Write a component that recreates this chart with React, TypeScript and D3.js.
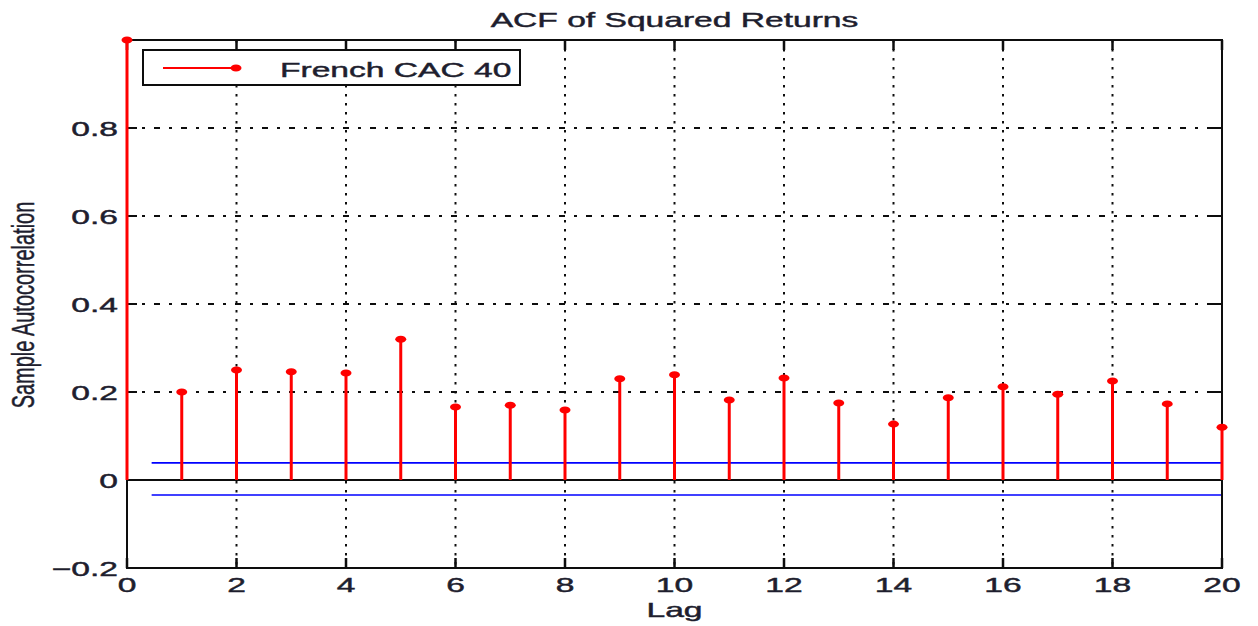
import React from "react";
import * as d3 from "d3";

// Sample autocorrelation of squared returns, lags 0..20
const lags = d3.range(0, 21);
const acfValues = [
  1.0, 0.2, 0.25, 0.246, 0.243, 0.32, 0.166, 0.17, 0.159, 0.23, 0.239,
  0.182, 0.232, 0.175, 0.127, 0.187, 0.212, 0.195, 0.225, 0.173, 0.12,
];
// Approximate confidence bounds
const upperBound = 0.039;
const lowerBound = -0.034;
const boundStartLag = 0.45;

const xTicks = [0, 2, 4, 6, 8, 10, 12, 14, 16, 18, 20];
const yTicks = [-0.2, 0, 0.2, 0.4, 0.6, 0.8];
const yTickLabels = ["\u22120.2", "0", "0.2", "0.4", "0.6", "0.8"];

const W = 1258;
const H = 626;
const left = 127;
const right = 1222;
const top = 40;
const bottom = 568;

const FONT = "'Liberation Sans', Arial, sans-serif";
const TEXT = "#1e1e2e";
const SX = 1.6;

function SText({ x, y, anchor = "start", size = 21, children }: any) {
  return (
    <text
      transform={`translate(${x},${y}) scale(${SX},1)`}
      textAnchor={anchor}
      fontFamily={FONT}
      fontSize={size}
      fill={TEXT}
      stroke={TEXT}
      strokeWidth={0.45}
    >
      {children}
    </text>
  );
}

export default function App() {
  const x = d3.scaleLinear().domain([0, 20]).range([left, right]);
  const y = d3.scaleLinear().domain([-0.2, 1.0]).range([bottom, top]);

  return (
    <svg
      width={W}
      height={H}
      style={{ position: "absolute", left: 0, top: 0, background: "#fff" }}
    >
      <defs>
        <filter id="soft" x="-5%" y="-5%" width="110%" height="110%">
          <feGaussianBlur stdDeviation="0.4" />
        </filter>
      </defs>

      <g filter="url(#soft)">
        {/* grid */}
        {xTicks
          .filter((t) => t > 0 && t < 20)
          .map((t) => (
            <line
              key={`gx${t}`}
              x1={x(t)}
              x2={x(t)}
              y1={top}
              y2={bottom}
              stroke="#111"
              strokeWidth={2}
              strokeDasharray="2.5,6.5"
            />
          ))}
        {yTicks
          .filter((t) => t > 0)
          .map((t) => (
            <line
              key={`gy${t}`}
              x1={left}
              x2={right}
              y1={y(t)}
              y2={y(t)}
              stroke="#111"
              strokeWidth={2}
              strokeDasharray="6,9,3,9"
            />
          ))}

        {/* confidence bounds */}
        {[upperBound, lowerBound].map((b, i) => (
          <line
            key={`b${i}`}
            x1={x(boundStartLag)}
            x2={x(20)}
            y1={y(b)}
            y2={y(b)}
            stroke="#0000ff"
            strokeWidth={1.6}
          />
        ))}

        {/* axes box and ticks */}
        <rect
          x={left}
          y={top}
          width={right - left}
          height={bottom - top}
          fill="none"
          stroke="#111"
          strokeWidth={2}
        />
        {xTicks.map((t) => (
          <g key={`tx${t}`}>
            <line x1={x(t)} x2={x(t)} y1={bottom} y2={bottom - 10} stroke="#111" strokeWidth={2.5} />
            <line x1={x(t)} x2={x(t)} y1={top} y2={top + 10} stroke="#111" strokeWidth={2.5} />
          </g>
        ))}
        {yTicks.map((t) => (
          <g key={`ty${t}`}>
            <line x1={left} x2={left + 10} y1={y(t)} y2={y(t)} stroke="#111" strokeWidth={2} />
            <line x1={right} x2={right - 12} y1={y(t)} y2={y(t)} stroke="#111" strokeWidth={2} />
          </g>
        ))}

        {/* zero baseline */}
        <line x1={left} x2={right} y1={y(0)} y2={y(0)} stroke="#111" strokeWidth={2} />

        {/* stems */}
        {lags.map((l, i) => (
          <g key={`s${l}`}>
            <line
              x1={x(l)}
              x2={x(l)}
              y1={y(0)}
              y2={y(acfValues[i])}
              stroke="#ff0000"
              strokeWidth={3}
            />
            <ellipse cx={x(l)} cy={y(acfValues[i])} rx={5.5} ry={3.5} fill="#ff0000" />
          </g>
        ))}

        {/* legend */}
        <rect x={143} y={50} width={377} height={35} fill="#fff" stroke="#111" strokeWidth={2} />
        <line x1={163} x2={236} y1={68} y2={68} stroke="#ff0000" strokeWidth={2} />
        <ellipse cx={236} cy={68} rx={5.5} ry={3.5} fill="#ff0000" />
      </g>

      {/* texts */}
      <SText x={280} y={77}>French CAC 40</SText>
      <SText x={(left + right) / 2} y={27} anchor="middle">ACF of Squared Returns</SText>
      <SText x={(left + right) / 2} y={617} anchor="middle">Lag</SText>
      {xTicks.map((t) => (
        <SText key={`lx${t}`} x={x(t)} y={592} anchor="middle">
          {t}
        </SText>
      ))}
      {yTicks.map((t, i) => (
        <SText key={`ly${t}`} x={118} y={y(t) + 7.5} anchor="end">
          {yTickLabels[i]}
        </SText>
      ))}
      <text
        transform={`translate(34,305) scale(${SX},1) rotate(-90)`}
        textAnchor="middle"
        fontFamily={FONT}
        fontSize={20}
        fill={TEXT}
        stroke={TEXT}
        strokeWidth={0.3}
      >
        Sample Autocorrelation
      </text>
    </svg>
  );
}
